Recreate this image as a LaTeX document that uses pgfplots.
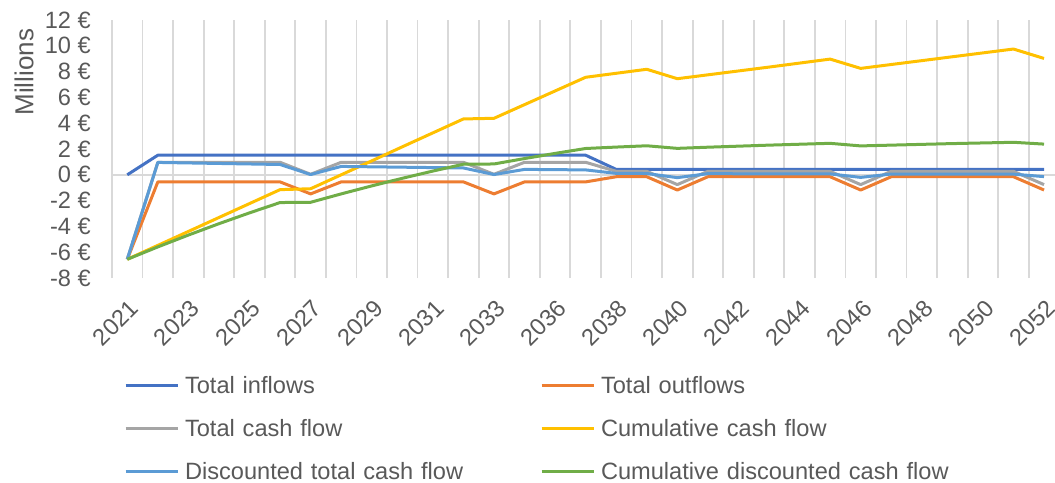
\documentclass[border=0pt]{standalone}
\usepackage{fontspec}
\setmainfont{Liberation Sans}
\usepackage{pgfplots}
\pgfplotsset{compat=1.18}
\usepackage{pgfplotstable}
\definecolor{cIn}{HTML}{4472C4}
\definecolor{cOut}{HTML}{ED7D31}
\definecolor{cTot}{HTML}{A5A5A5}
\definecolor{cCum}{HTML}{FFC000}
\definecolor{cDisc}{HTML}{5B9BD5}
\definecolor{cCDisc}{HTML}{70AD47}
\definecolor{textgray}{HTML}{595959}
\definecolor{gridgray}{HTML}{D9D9D9}
\pgfplotstableread{
x in out tot cum disc cdisc
0 0 -6.55 -6.55 -6.55 -6.55 -6.55
1 1.52 -0.55 0.97 -5.47 0.96 -5.59
2 1.52 -0.55 0.97 -4.39 0.92 -4.67
3 1.52 -0.55 0.97 -3.31 0.88 -3.79
4 1.52 -0.55 0.97 -2.23 0.84 -2.95
5 1.52 -0.55 0.97 -1.15 0.80 -2.15
6 1.52 -1.48 0.04 -1.08 0.02 -2.13
7 1.52 -0.55 0.97 0.00 0.65 -1.48
8 1.52 -0.55 0.97 1.08 0.62 -0.86
9 1.52 -0.55 0.97 2.17 0.59 -0.27
10 1.52 -0.55 0.97 3.25 0.56 0.29
11 1.52 -0.55 0.97 4.33 0.53 0.82
12 1.52 -1.48 0.04 4.38 0.02 0.84
13 1.52 -0.55 0.97 5.44 0.42 1.26
14 1.52 -0.55 0.97 6.50 0.40 1.66
15 1.52 -0.55 0.97 7.56 0.38 2.04
16 0.42 -0.15 0.27 7.87 0.11 2.15
17 0.42 -0.15 0.27 8.18 0.10 2.25
18 0.42 -1.18 -0.76 7.45 -0.22 2.05
19 0.42 -0.15 0.27 7.75 0.09 2.14
20 0.42 -0.15 0.27 8.05 0.08 2.22
21 0.42 -0.15 0.27 8.35 0.08 2.30
22 0.42 -0.15 0.27 8.66 0.07 2.37
23 0.42 -0.15 0.27 8.97 0.07 2.44
24 0.42 -1.18 -0.76 8.25 -0.20 2.24
25 0.42 -0.15 0.27 8.55 0.06 2.30
26 0.42 -0.15 0.27 8.85 0.06 2.36
27 0.42 -0.15 0.27 9.15 0.06 2.42
28 0.42 -0.15 0.27 9.45 0.05 2.47
29 0.42 -0.15 0.27 9.75 0.05 2.52
30 0.42 -1.18 -0.76 9.02 -0.14 2.38
}\datatable
\begin{document}
\begin{tikzpicture}[font=\fontsize{23.6bp}{28bp}\selectfont]
\begin{axis}[
  at={(112bp,-278bp)}, anchor=south west,
  scale only axis, width=947.3bp, height=258bp,
  xmin=-0.5, xmax=30.5, ymin=-8, ymax=12,
  xtick={0,2,...,30},
  xticklabels={2021,2023,2025,2027,2029,2031,2033,2036,2038,2040,2042,2044,2046,2048,2050,2052},
  minor xtick={-0.5,0.5,...,30.5},
  xminorgrids,
  minor grid style={draw=gridgray, line width=1.8bp},
  ytick={-8,-6,...,12},
  yticklabels={-8 €,-6 €,-4 €,-2 €,0 €,2 €,4 €,6 €,8 €,10 €,12 €},
  extra y ticks={0}, extra y tick labels={},
  extra y tick style={grid=major, major grid style={draw=gridgray, line width=1.8bp}},
  axis line style={draw=none},
  major tick length=0pt, minor tick length=0pt,
  tick label style={text=textgray},
  yticklabel style={anchor=east, inner sep=0pt, xshift=-21bp},
  xticklabel style={inner sep=0pt, xshift=1bp, yshift=-20bp, rotate=45, anchor=north east},
  ylabel={Millions},
  ylabel style={at={(axis description cs:-0.0929,0.798)}, anchor=center, inner sep=0pt, text=textgray, font=\fontsize{26bp}{30bp}\selectfont},
  legend columns=2,
  legend cell align=left,
  legend style={at={(axis description cs:0.0127,-0.381)}, anchor=north west, draw=none, fill=none,
    inner sep=0pt, outer sep=0pt, column sep=6bp, row sep=21bp,
    nodes={inner sep=0pt, text height=17bp, text depth=5bp, text=textgray},
    /tikz/every even column/.append style={text width=349bp}},
  legend image code/.code={\draw[#1] (0bp,2bp) -- (52bp,2bp);},
  every axis plot/.append style={line width=3bp, line join=round, mark=none},
]
\addplot[cIn] table[x=x, y=in] {\datatable};
\addlegendentry{Total inflows}
\addplot[cOut] table[x=x, y=out] {\datatable};
\addlegendentry{Total outflows}
\addplot[cTot] table[x=x, y=tot] {\datatable};
\addlegendentry{Total cash flow}
\addplot[cCum] table[x=x, y=cum] {\datatable};
\addlegendentry{Cumulative cash flow}
\addplot[cDisc] table[x=x, y=disc] {\datatable};
\addlegendentry{Discounted total cash flow}
\addplot[cCDisc] table[x=x, y=cdisc] {\datatable};
\addlegendentry{Cumulative discounted cash flow}
\end{axis}
\pgfresetboundingbox
\path[use as bounding box] (0bp,0bp) rectangle (1055bp,-483bp);
\end{tikzpicture}
\end{document}
